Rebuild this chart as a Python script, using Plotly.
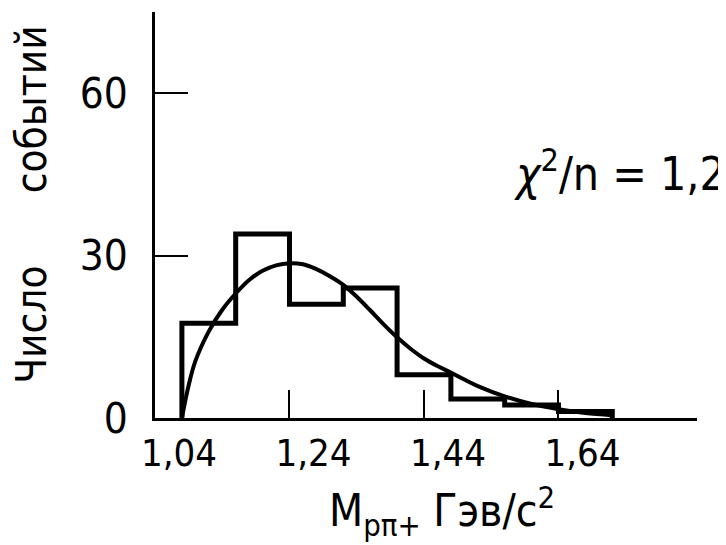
import plotly.graph_objects as go

# ---- data ----
bin_edges = [1.08, 1.16, 1.24, 1.32, 1.40, 1.48, 1.56, 1.64, 1.72]
bin_counts = [17.5, 34, 21, 24, 8, 3.5, 2.4, 1.2]

curve_x = [1.08, 1.09, 1.10, 1.12, 1.14, 1.16, 1.18, 1.20, 1.22, 1.24, 1.26, 1.28,
           1.30, 1.32, 1.34, 1.36, 1.38, 1.40, 1.42, 1.44, 1.46, 1.48, 1.50, 1.52,
           1.56, 1.60, 1.64, 1.68, 1.72]
curve_y = [0, 6, 10.5, 16, 20, 23, 25.5, 27.2, 28.2, 28.6, 28.4, 27.5,
           26.2, 24.6, 22.4, 19.9, 17.3, 14.9, 12.8, 11.0, 9.6, 8.4, 7.1, 5.9,
           4.0, 2.6, 1.6, 0.9, 0.5]

x_tickvals = [1.04, 1.24, 1.44, 1.64]
x_ticktext = ["1,04", "1,24", "1,44", "1,64"]
y_tickvals = [0, 30, 60]
y_ticktext = ["0", "30", "60"]

FONT = "Liberation Sans Narrow, DejaVu Sans Condensed, DejaVu Sans, sans-serif"

# step outline of the histogram (rises from zero at first edge, drops at last edge)
step_x = [bin_edges[0]] + bin_edges
step_y = [0] + bin_counts + [0]

fig = go.Figure()
fig.add_trace(go.Scatter(x=step_x, y=step_y, mode="lines", line_shape="hv",
                         line=dict(color="black", width=5), hoverinfo="skip",
                         showlegend=False, cliponaxis=False))
fig.add_trace(go.Scatter(x=curve_x, y=curve_y, mode="lines", line_shape="spline",
                         line=dict(color="black", width=4), hoverinfo="skip",
                         showlegend=False, cliponaxis=False))

# page body adds an 8px offset, so the figure is 8px smaller and margins shifted
fig.update_layout(
    width=718, height=537,
    margin=dict(l=147, r=29, t=4, b=127, autoexpand=False),
    paper_bgcolor="white", plot_bgcolor="white",
    font=dict(family=FONT, color="black", size=36),
    xaxis=dict(range=[1.04, 1.846], showgrid=False, zeroline=False,
               automargin=False,
               showline=True, linecolor="black", linewidth=2.5,
               tickvals=x_tickvals, ticktext=x_ticktext,
               ticks="inside", ticklen=28, tickwidth=2, tickcolor="black",
               tickfont=dict(size=38, family=FONT),
               ticklabelshift=24, ticklabelstandoff=0),
    yaxis=dict(range=[0, 75], showgrid=False, zeroline=False,
               automargin=False,
               showline=True, linecolor="black", linewidth=2.5,
               tickvals=y_tickvals, ticktext=y_ticktext,
               ticks="inside", ticklen=33, tickwidth=2, tickcolor="black",
               tickfont=dict(size=42, family=FONT),
               ticklabelstandoff=16),
)

fig.add_annotation(text="Число" + "\u00a0" * 6 + "событий", textangle=-90,
                   xref="paper", yref="paper", x=0, y=0.525, xshift=-123,
                   xanchor="center", yanchor="middle", showarrow=False,
                   font=dict(size=42, family=FONT))
fig.add_annotation(text="M<sub>pπ+</sub> Гэв/c<sup>2</sup>",
                   xref="paper", yref="paper", x=0.53, y=0, yshift=-127,
                   xanchor="center", yanchor="bottom", showarrow=False,
                   font=dict(size=44, family=FONT))
fig.add_annotation(text="<i>χ</i><sup>2</sup>/n = 1,2",
                   xref="paper", yref="paper", x=0.659, y=0.575, yshift=14,
                   xanchor="left", yanchor="middle", showarrow=False,
                   font=dict(size=46, family=FONT))

fig.write_html("out.html")
